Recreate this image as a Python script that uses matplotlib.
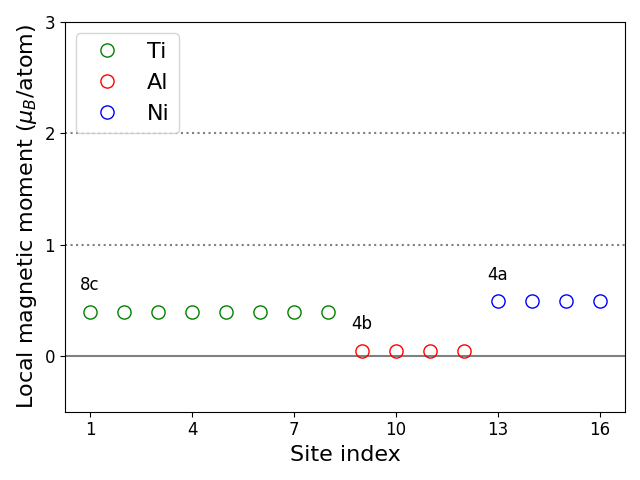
import numpy as np
import matplotlib
matplotlib.use("Agg")
import matplotlib.pyplot as plt

ti_sites = [1, 2, 3, 4, 5, 6, 7, 8]
ti_moments = [0.40, 0.40, 0.40, 0.40, 0.40, 0.40, 0.40, 0.40]
al_sites = [9, 10, 11, 12]
al_moments = [0.045, 0.045, 0.045, 0.045]
ni_sites = [13, 14, 15, 16]
ni_moments = [0.49, 0.49, 0.49, 0.49]

wyckoff = ["8c", "4b", "4a"]
label_pos = [(0.7, 0.59), (8.7, 0.24), (12.7, 0.68)]

fig, ax = plt.subplots(figsize=(6.4, 4.8), dpi=100)
ax.axhline(0, color="gray", lw=1.5)
ax.axhline(1, color="gray", ls=":", lw=1.5)
ax.axhline(2, color="gray", ls=":", lw=1.5)

ax.plot(ti_sites, ti_moments, "o", mfc="none", mec="green", ms=9.5, label="Ti")
ax.plot(al_sites, al_moments, "o", mfc="none", mec="red", ms=9.5, label="Al")
ax.plot(ni_sites, ni_moments, "o", mfc="none", mec="blue", ms=9.5, label="Ni")

for lab, (x, y) in zip(wyckoff, label_pos):
    ax.text(x, y, lab, fontsize=12)

ax.set_ylim(-0.5, 3)
ax.set_yticks([0, 1, 2, 3])
ax.set_xticks([1, 4, 7, 10, 13, 16])
ax.tick_params(labelsize=12)
ax.set_xlabel("Site index", fontsize=16)
ax.set_ylabel(r"Local magnetic moment ($\mu_B$/atom)", fontsize=16)
ax.legend(fontsize=16, loc="upper left")
fig.tight_layout()
fig.savefig("out.png")
